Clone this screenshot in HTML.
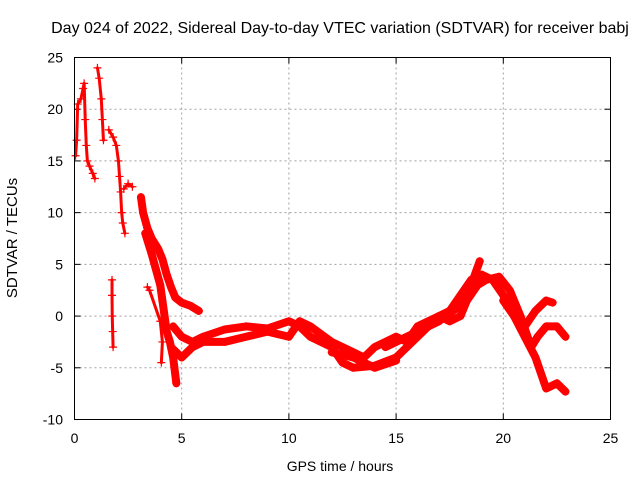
<!DOCTYPE html>
<html><head><meta charset="utf-8"><style>
body{margin:0;background:#fff;}
svg{display:block;font-family:"Liberation Sans",sans-serif;}
</style></head><body>
<svg id="chart" width="640" height="480" xmlns="http://www.w3.org/2000/svg">
<text x="340" y="33" font-size="16" text-anchor="middle">Day 024 of 2022, Sidereal Day-to-day VTEC variation (SDTVAR) for receiver babj</text>
<text x="340" y="471" font-size="14" text-anchor="middle">GPS time / hours</text>
<text transform="translate(17,238) rotate(-90)" font-size="15" text-anchor="middle">SDTVAR / TECUs</text>
<g id="grid"></g><g id="ticks"></g><g id="series"></g>
<rect x="74.5" y="57.5" width="536" height="362" fill="none" stroke="#000" stroke-width="1"/>
</svg>
<script>
const xTicks=[0,5,10,15,20,25];
const yTicks=[-10,-5,0,5,10,15,20,25];
const arcA1=[[0.05,15.5],[0.1,17],[0.15,20.5],[0.3,21],[0.4,22],[0.45,22.5],[0.5,19],[0.55,16.5],[0.6,15],[0.7,14.5],[0.85,13.8],[0.95,13.3]];
const arcA2=[[1.07,24],[1.15,23],[1.25,21],[1.3,19],[1.35,17]];
const arcA3=[[1.6,18],[1.8,17.3],[1.95,16.5],[2.05,15],[2.1,13.5],[2.15,12],[2.2,10],[2.25,9],[2.35,8]];
const arcA4=[[2.3,12.3],[2.5,12.8],[2.7,12.5]];
const arcA5=[[3.1,11.5],[3.2,10],[3.4,8.5],[3.6,7.5],[3.9,6.5],[4.1,5.5],[4.3,4],[4.5,2.8],[4.7,1.8],[5.0,1.3],[5.4,1],[5.8,0.5]];
const arcA6=[[3.3,8],[3.6,6],[3.8,4.5],[4.0,3],[4.1,1.5],[4.2,0],[4.3,-1.5],[4.45,-2.5],[4.6,-4],[4.75,-6.5]];
const arcA7=[[1.75,3.5],[1.75,2],[1.76,0],[1.78,-1.5],[1.8,-3]];
const arcA8=[[3.4,2.8],[3.5,2.5],[4.0,-0.5],[4.1,-2.5],[4.05,-4.5]];
const bandB1=[[4.6,-1],[5,-2],[5.5,-2.5],[6,-2],[7,-1.3],[8,-1],[9,-1.2],[10,-0.5],[10.5,-1],[11,-2],[12,-3],[12.5,-4.5],[13,-5],[14,-4.8],[15,-4],[15.5,-3],[16,-2],[16.5,-1],[17,0],[17.5,0.5],[18,2],[18.5,3.5],[19,4],[19.5,3.5],[20,2],[20.5,0],[21,-2],[21.5,-4],[22,-7],[22.5,-6.5],[22.9,-7.3]];
const bandB2=[[4.5,-3],[5,-4],[5.5,-3],[6,-2.5],[7,-2.5],[8,-2],[9,-1.5],[10,-2],[10.5,-0.5],[11,-1],[12,-2.5],[13,-3.5],[13.5,-4],[14,-3],[15,-2],[15.5,-2.5],[16,-1],[17,0],[17.5,-0.5],[18,0],[18.3,1.5],[18.8,3],[19.2,3.5],[19.8,3.8],[20.3,2.5],[20.8,0],[21.3,-3],[21.6,-2],[22,-1],[22.5,-1],[22.9,-2]];
const bandB3=[[14.5,-3],[15.5,-2],[16,-1.5],[17,-0.5],[17.5,0.3],[18,1],[18.5,3],[18.9,5.3]];
const bandB4=[[20,1.5],[20.5,0],[21,-1],[21.5,0.5],[22,1.5],[22.3,1.3]];
const bandB5=[[12,-3.5],[13,-4],[14,-5],[15,-4.3]];
const allSeries=[arcA1,arcA2,arcA3,arcA4,arcA5,arcA6,arcA7,arcA8,bandB1,bandB2,bandB3,bandB4,bandB5];
const X0=74.5,X1=610.5,Y0=419.5,Y1=57.5;
const sx=t=>X0+(t-0)/(25-0)*(X1-X0);
const sy=v=>Y0-(v+10)/(35)*(Y0-Y1);
const NS="http://www.w3.org/2000/svg";
const grid=document.getElementById('grid'),ticks=document.getElementById('ticks'),ser=document.getElementById('series');
function mk(tag,attrs,parent){const e=document.createElementNS(NS,tag);for(const k in attrs)e.setAttribute(k,attrs[k]);parent.appendChild(e);return e;}
xTicks.forEach(t=>{const x=sx(t);
 if(t>0&&t<25){const g=mk('line',{x1:x,x2:x,y1:Y1,y2:Y0,stroke:'#a0a0a0','stroke-dasharray':'2,3'},grid);
 
 }
 mk('line',{x1:x,x2:x,y1:Y0,y2:Y0-6,stroke:'#000'},ticks);
 mk('line',{x1:x,x2:x,y1:Y1,y2:Y1+6,stroke:'#000'},ticks);
 const l=mk('text',{x:x,y:443,'font-size':14,'text-anchor':'middle'},ticks);l.textContent=t;
 
 
});
yTicks.forEach(v=>{const y=sy(v);
 if(v>-10&&v<25){const g=mk('line',{x1:X0,x2:X1,y1:y,y2:y,stroke:'#a0a0a0','stroke-dasharray':'2,3'},grid);
 
 }
 mk('line',{x1:X0,x2:X0+6,y1:y,y2:y,stroke:'#000'},ticks);
 mk('line',{x1:X1,x2:X1-6,y1:y,y2:y,stroke:'#000'},ticks);
 const l=mk('text',{x:63,y:y+5,'font-size':14,'text-anchor':'end'},ticks);l.textContent=v;
 
 
});
allSeries.forEach((s,i)=>{
 const sparse=(i<4||i===6||i===7);
 const pts=s.map(p=>sx(p[0])+','+sy(p[1])).join(' ');
 const pl=mk('polyline',{points:pts,fill:'none',stroke:'#ff0000','stroke-width':sparse?3:8,'stroke-linejoin':'round','stroke-linecap':'round'},ser);
 
 
 s.forEach(p=>{const x=sx(p[0]),y=sy(p[1]);
  const m=mk('path',{d:`M${x-4},${y}H${x+4}M${x},${y-4}V${y+4}`,stroke:'#ff0000','stroke-width':1.2},ser);
  
  
 });
});
</script>
</body></html>
